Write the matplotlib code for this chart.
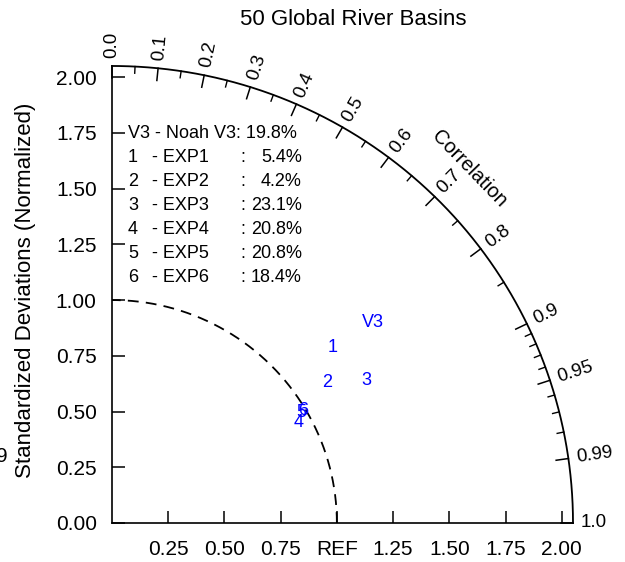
import numpy as np
import matplotlib.pyplot as plt

plt.rcParams['font.family'] = ['Liberation Sans', 'DejaVu Sans']

# point labels, normalized std dev and correlation
labels = ["V3", "1", "2", "3", "4", "5", "6"]
models = ["Noah V3", "EXP1", "EXP2", "EXP3", "EXP4", "EXP5", "EXP6"]
bias_pct = ["19.8%", "5.4%", "4.2%", "23.1%", "20.8%", "20.8%", "18.4%"]
stdev = [1.468, 1.256, 1.144, 1.299, 0.944, 0.977, 0.986]
corr = [0.790, 0.780, 0.835, 0.870, 0.879, 0.862, 0.860]

std_ticks = [0.25, 0.5, 0.75, 1.0, 1.25, 1.5, 1.75, 2.0]
std_labels = ["0.25", "0.50", "0.75", "REF", "1.25", "1.50", "1.75", "2.00"]
corr_major = [0.0, 0.1, 0.2, 0.3, 0.4, 0.5, 0.6, 0.7, 0.8, 0.9, 0.95, 0.99, 1.0]
corr_labels = ["0.0", "0.1", "0.2", "0.3", "0.4", "0.5", "0.6", "0.7", "0.8",
               "0.9", "0.95", "0.99", "1.0"]
corr_minor = [0.05, 0.15, 0.25, 0.35, 0.45, 0.55, 0.65, 0.75, 0.85,
              0.91, 0.92, 0.93, 0.94, 0.96, 0.97, 0.98]
rmax = 2.05

fig = plt.figure(figsize=(6.25, 5.62), dpi=100)
ax = fig.add_axes([0.1792, 0.0694, 0.7376, 0.8132])
ax.set_xlim(0, rmax)
ax.set_ylim(0, rmax)
for s in ['top', 'right']:
    ax.spines[s].set_visible(False)
ax.spines['left'].set_linewidth(1.2)
ax.spines['bottom'].set_linewidth(1.2)

ax.set_xticks(std_ticks)
ax.set_xticklabels(std_labels)
ax.set_yticks([0] + std_ticks)
ax.set_yticklabels(["%.2f" % v for v in [0] + std_ticks])
ax.tick_params(axis='x', direction='in', length=9, width=1.1, pad=12, labelsize=15)
ax.tick_params(axis='y', direction='in', length=9, width=1.1, pad=11, labelsize=15)
ax.set_ylabel("Standardized Deviations (Normalized)", fontsize=16)
ax.yaxis.set_label_coords(-0.165, 0.51)

# outer correlation arc
t = np.linspace(0, np.pi / 2, 300)
ax.plot(rmax * np.cos(t), rmax * np.sin(t), color='black', lw=1.3, clip_on=False)

# reference arc
ax.plot(np.cos(t), np.sin(t), color='black', lw=1.3, ls=(0, (6, 4)))

for c, lab in zip(corr_major, corr_labels):
    a = np.arccos(c)
    ax.plot([(rmax - 0.055) * c, rmax * c], [(rmax - 0.055) * np.sin(a), rmax * np.sin(a)],
            color='black', lw=1.1, clip_on=False)
    ax.text((rmax + 0.035) * c, (rmax + 0.035) * np.sin(a), lab,
            rotation=np.degrees(a), rotation_mode='anchor', ha='left', va='center',
            fontsize=13.5, clip_on=False)
for c in corr_minor:
    a = np.arccos(c)
    ax.plot([(rmax - 0.03) * c, rmax * c], [(rmax - 0.03) * np.sin(a), rmax * np.sin(a)],
            color='black', lw=1.0, clip_on=False)

ax.text(1.59, 1.59, "Correlation", rotation=-46, ha='center', va='center', fontsize=14.5)

# points drawn as text markers
for lab, s, c in zip(labels, stdev, corr):
    a = np.arccos(c)
    ax.text(s * c, s * np.sin(a), lab, color='blue', fontsize=13, ha='center', va='center')

# legend block
y0 = (523 - 133) / 223.0
dy = 24 / 223.0
ax.text(0.071, y0, "V3 - Noah V3: " + bias_pct[0], fontsize=13, va='center')
for i in range(1, len(labels)):
    y = y0 - i * dy
    ax.text(0.071, y, labels[i], fontsize=13, va='center')
    ax.text(0.178, y, "- " + models[i], fontsize=13, va='center')
    ax.text(0.573, y, ":", fontsize=13, va='center')
    ax.text(0.844, y, bias_pct[i], fontsize=13, va='center', ha='right')

fig.text(0.565, 0.966, "50 Global River Basins", ha='center', va='center', fontsize=16)
fig.text(-0.006, 0.187, "9", ha='left', va='center', fontsize=15)

fig.savefig("out.png", dpi=100)
